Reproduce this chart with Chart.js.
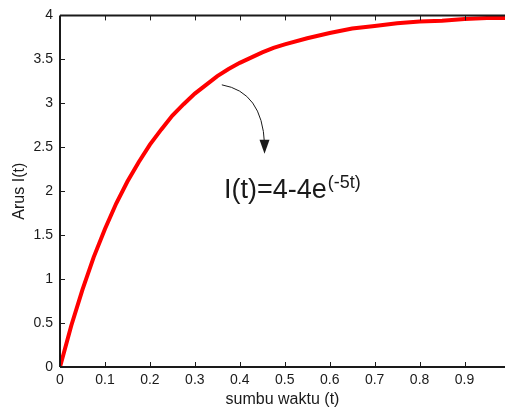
<!DOCTYPE html>
<html>
<head>
<meta charset="utf-8">
<script src="https://cdn.jsdelivr.net/npm/chart.js@4/dist/chart.umd.min.js"></script>
<style>
html,body{margin:0;padding:0;background:#fff;}
#wrap{width:505px;height:409px;position:relative;}
</style>
</head>
<body>
<div id="wrap"><canvas id="c"></canvas></div>
<script>
// Time samples (t) and current values I(t)
const timeValues = [0,0.025,0.05,0.075,0.1,0.125,0.15,0.175,0.2,0.225,0.25,0.275,0.3,0.325,0.35,0.375,0.4,0.425,0.45,0.475,0.5,0.55,0.6,0.65,0.7,0.75,0.8,0.85,0.9,0.95,0.99];
const currentValues = [0,0.47,0.88,1.25,1.57,1.86,2.11,2.33,2.53,2.70,2.86,2.99,3.11,3.21,3.31,3.39,3.46,3.52,3.58,3.63,3.67,3.74,3.80,3.85,3.88,3.91,3.93,3.94,3.96,3.97,3.97];
const xTicks = [0,0.1,0.2,0.3,0.4,0.5,0.6,0.7,0.8,0.9];
const yTicks = [0,0.5,1,1.5,2,2.5,3,3.5,4];
const xTitle = 'sumbu waktu (t)';
const yTitle = 'Arus I(t)';
const annotationText = 'I(t)=4-4e';
const annotationSup = '(-5t)';

const FONT = "'Liberation Sans', Arial, sans-serif";
const INK = '#1a1a1a';

const framePlugin = {
  id: 'frame',
  afterDraw(chart) {
    const {ctx, chartArea: a, scales: {x, y}} = chart;
    ctx.save();
    ctx.strokeStyle = INK;
    ctx.lineWidth = 2;
    ctx.beginPath();
    ctx.moveTo(a.left, a.top); ctx.lineTo(a.right, a.top);
    ctx.moveTo(a.left, a.top); ctx.lineTo(a.left, a.bottom);
    ctx.moveTo(a.left, a.bottom); ctx.lineTo(a.right, a.bottom);
    ctx.stroke();
    ctx.lineWidth = 1;
    ctx.beginPath();
    xTicks.forEach(v => {
      const px = Math.round(x.getPixelForValue(v)) + 0.5;
      ctx.moveTo(px, a.bottom); ctx.lineTo(px, a.bottom - 5);
      ctx.moveTo(px, a.top); ctx.lineTo(px, a.top + 5);
    });
    yTicks.forEach(v => {
      const py = Math.round(y.getPixelForValue(v)) + 0.5;
      ctx.moveTo(a.left, py); ctx.lineTo(a.left + 5, py);
    });
    ctx.stroke();
    ctx.restore();
  },
  afterDatasetsDraw(chart) {
    const {ctx, scales: {x, y}} = chart;
    ctx.save();
    // curved arrow
    const sx = x.getPixelForValue(0.36), sy = y.getPixelForValue(3.21);
    const ex = x.getPixelForValue(0.455), ey = y.getPixelForValue(2.45);
    const cx = x.getPixelForValue(0.45), cy = y.getPixelForValue(3.13);
    ctx.strokeStyle = INK;
    ctx.lineWidth = 1;
    ctx.beginPath();
    ctx.moveTo(sx, sy);
    ctx.quadraticCurveTo(cx, cy, ex, ey - 8);
    ctx.stroke();
    ctx.fillStyle = INK;
    ctx.beginPath();
    ctx.moveTo(ex - 5, ey - 12);
    ctx.lineTo(ex + 5, ey - 12);
    ctx.lineTo(ex, ey + 2);
    ctx.closePath();
    ctx.fill();
    // formula text
    const tx = x.getPixelForValue(0.365), ty = y.getPixelForValue(1.92);
    ctx.fillStyle = INK;
    ctx.textBaseline = 'alphabetic';
    ctx.textAlign = 'left';
    ctx.font = '27px ' + FONT;
    ctx.fillText(annotationText, tx, ty);
    const w = ctx.measureText(annotationText).width;
    ctx.font = '18px ' + FONT;
    ctx.fillText(annotationSup, tx + w + 1, ty - 10);
    ctx.restore();
  }
};

new Chart(document.getElementById('c'), {
  type: 'line',
  data: {
    datasets: [{
      data: timeValues.map((t, i) => ({x: t, y: currentValues[i]})),
      borderColor: '#ff0000',
      borderWidth: 4,
      pointRadius: 0,
      tension: 0,
      fill: false
    }]
  },
  options: {
    responsive: true,
    maintainAspectRatio: false,
    animation: false,
    devicePixelRatio: 1,
    layout: {padding: {top: 13, right: 0, left: 0, bottom: 0}},
    plugins: {legend: {display: false}, tooltip: {enabled: false}},
    scales: {
      x: {
        type: 'linear', min: 0, max: 0.99,
        afterBuildTicks: s => { s.ticks = xTicks.map(v => ({value: v})); },
        afterFit: s => { s.height = 42; },
        grid: {display: false, drawTicks: false, tickLength: 0}, border: {display: false},
        ticks: {padding: 5, color: INK, font: {family: FONT, size: 14}, maxRotation: 0, autoSkip: false,
          callback: v => String(v)},
        title: {display: true, text: xTitle, color: INK, font: {family: FONT, size: 16}, padding: {top: 0, bottom: 0}}
      },
      y: {
        type: 'linear', min: 0, max: 4,
        afterBuildTicks: s => { s.ticks = yTicks.map(v => ({value: v})); },
        afterFit: s => { s.width = 60; },
        grid: {display: false, drawTicks: false, tickLength: 0}, border: {display: false},
        ticks: {padding: 7, color: INK, font: {family: FONT, size: 14}, autoSkip: false,
          callback: v => String(v)},
        title: {display: true, text: yTitle, color: INK, font: {family: FONT, size: 16}, padding: {top: 10, bottom: 0}}
      }
    }
  },
  plugins: [framePlugin]
});
</script>
</body>
</html>
